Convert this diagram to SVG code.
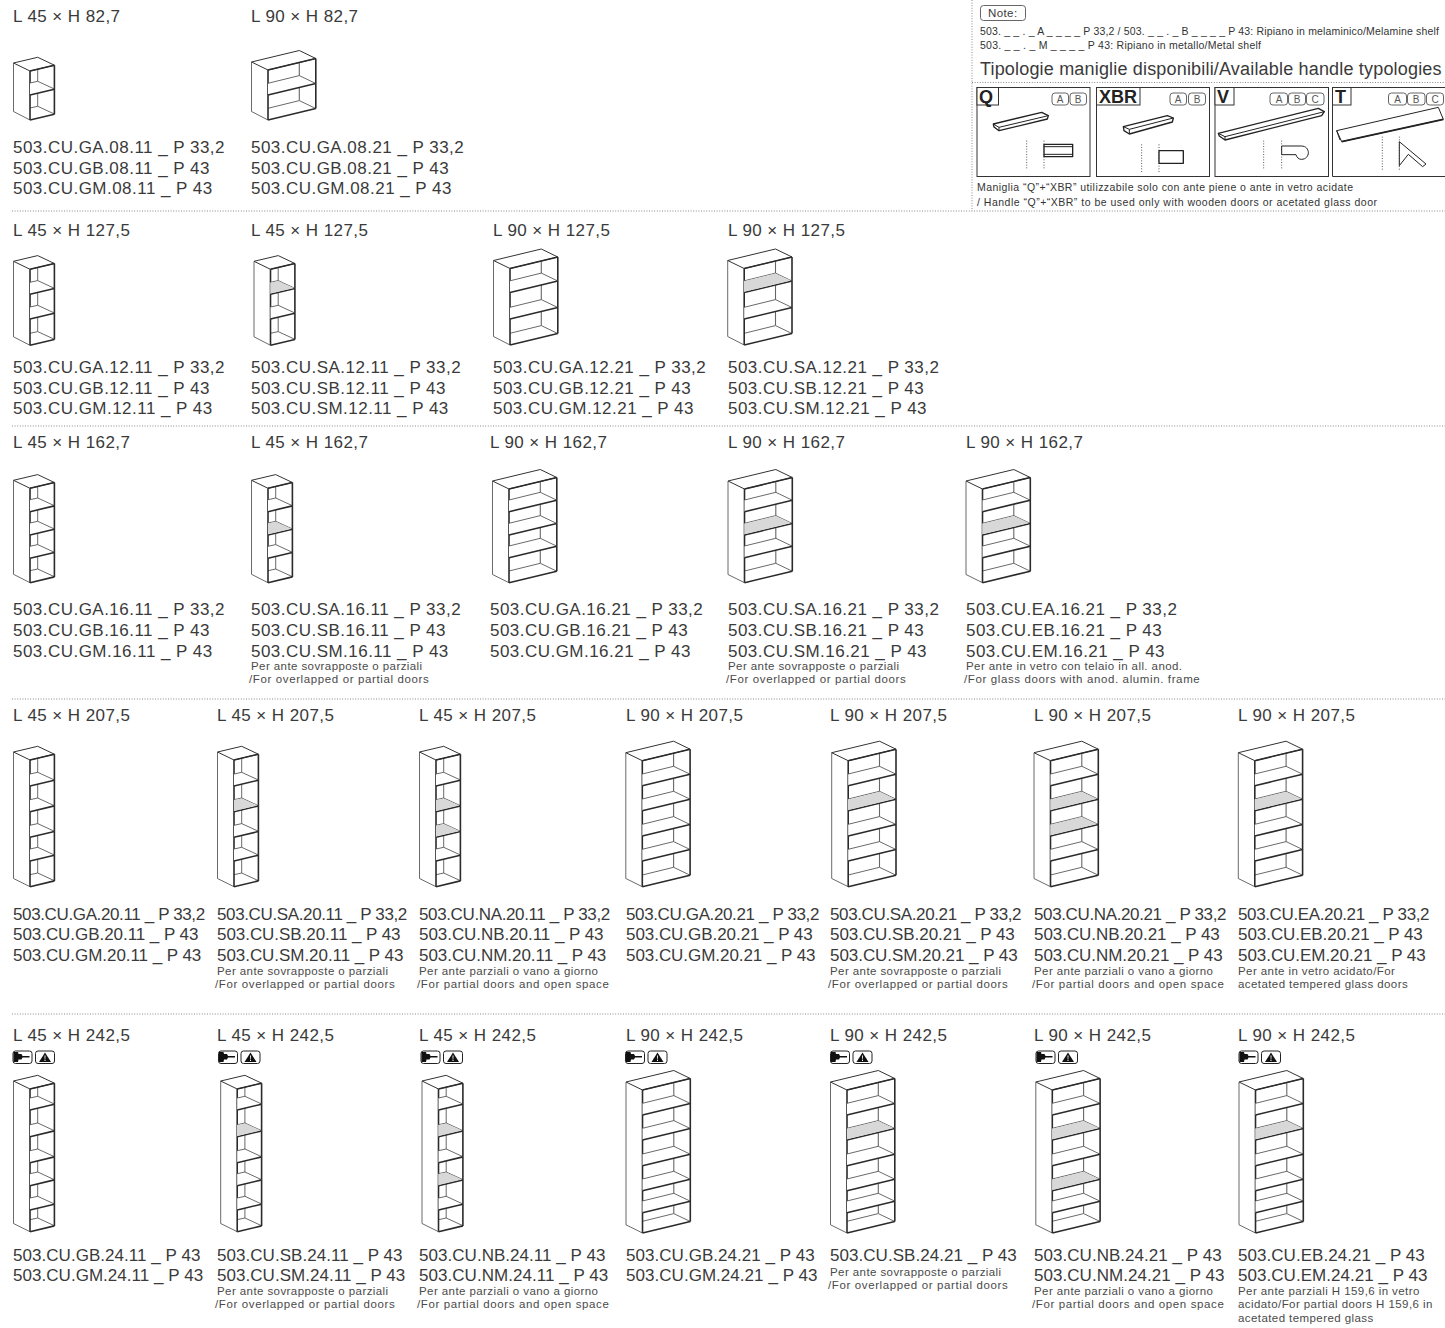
<svg xmlns="http://www.w3.org/2000/svg" width="1445" height="1328" viewBox="0 0 1445 1328">
<style>
text{font-family:"Liberation Sans",Arial,sans-serif;fill:#3a3a3a}
.l{font-size:17px;letter-spacing:.43px}
.c{font-size:17px;letter-spacing:.47px}
.d{font-size:17px;letter-spacing:-.37px}
.e{font-size:17px;letter-spacing:-.05px}
.f{font-size:17px;letter-spacing:.04px}
.s{font-size:11.5px;letter-spacing:.42px;fill:#4a4a4a}
.s2{font-size:11.5px;letter-spacing:.62px;fill:#4a4a4a}
.n{font-size:10.5px;fill:#333}
.t{font-size:18px;letter-spacing:.5px}
.tag{font-size:10px;fill:#555;text-anchor:middle}
.hl{font-size:18px;font-weight:bold;fill:#222}
.thin{fill:none;stroke:#444;stroke-width:.8}
.mid{fill:none;stroke:#666;stroke-width:1.1}
.side{fill:#fff;stroke:#333;stroke-width:1}
.thick{fill:none;stroke:#2b2b2b;stroke-width:1.6}
.gray{fill:#d8d8d8;stroke:none}
.wht{fill:#fff;stroke:none}
.sep{fill:none;stroke:#8a8a8a;stroke-width:1;stroke-dasharray:1 1.6}
.box{fill:#fff;stroke:#333;stroke-width:1}
.tagb{fill:#fff;stroke:#555;stroke-width:.9}
.icb{fill:#fff;stroke:#222;stroke-width:1}
.hk{fill:#fff;stroke:#222;stroke-width:4;stroke-linejoin:round}
.hk2{fill:none;stroke:#222;stroke-width:3}
.hdot{fill:none;stroke:#555;stroke-width:3;stroke-dasharray:3 5}
</style>
<defs>
<g id="ns"><path class="wht" d="M0,0L24.4,-5.8L7.7,-13.7L0,-12Z"/><path class="thin" d="M0,-12L7.7,-13.7L24.4,-6"/><path class="thick" d="M0,0L24.4,-5.8"/></g>
<g id="nsg"><use href="#ns"/><path class="gray" d="M0,-.8L23.5,-6.3L7.7,-13.3L0,-11.6Z"/></g>
<g id="ws"><path class="wht" d="M0,0L47.8,-11.5L31.3,-19.4L0,-11.7Z"/><path class="thin" d="M0,-11.7L31.3,-19.4L47.8,-11.5"/><path class="thick" d="M0,0L47.8,-11.5"/></g>
<g id="wsg"><use href="#ws"/><path class="gray" d="M0,-.8L46.5,-12L31.3,-19L0,-11.3Z"/></g>
<path id="nt" class="side" d="M-16.5,-8L7.7,-13.7L24.4,-5.8L0,0Z"/>
<path id="wt" class="side" d="M-16.5,-8L31.3,-19.5L47.8,-11.5L0,0Z"/>
<g id="n49"><use href="#nt"/><path class="thin" d="M-16.5,-8V40.5L0,49M7.7,-2V35.3"/><use href="#ns" y="49"/><path class="thick" d="M0,0V49M24.4,-5.8V43.2M0,0L24.4,-5.8"/></g>
<g id="n76"><use href="#nt"/><path class="thin" d="M-16.5,-8V67.5L0,76M7.7,-2V62.3"/><use href="#ns" y="76"/><path class="thick" d="M0,0V76M24.4,-5.8V70.2M0,0L24.4,-5.8"/></g>
<g id="n94"><use href="#nt"/><path class="thin" d="M-16.5,-8V86L0,94.4M7.7,-2V80.7"/><use href="#ns" y="94.4"/><path class="thick" d="M0,0V94.4M24.4,-5.8V88.6M0,0L24.4,-5.8"/></g>
<g id="n127"><use href="#nt"/><path class="thin" d="M-16.5,-8V118.5L0,126.7M7.7,-2V113"/><use href="#ns" y="126.7"/><path class="thick" d="M0,0V126.7M24.4,-5.8V120.9M0,0L24.4,-5.8"/></g>
<g id="n143"><use href="#nt"/><path class="thin" d="M-16.5,-8V134.5L0,142.7M7.7,-2V129"/><use href="#ns" y="142.7"/><path class="thick" d="M0,0V142.7M24.4,-5.8V136.9M0,0L24.4,-5.8"/></g>
<g id="w50"><use href="#wt"/><path class="thin" d="M-16.5,-8V41.5L0,50"/><path class="mid" d="M31.3,-7V30.5"/><use href="#ws" y="50"/><path class="thick" d="M0,0V50M47.8,-11.5V38.5M0,0L47.8,-11.5"/></g>
<g id="w76"><use href="#wt"/><path class="thin" d="M-16.5,-8V68L0,76.5"/><path class="mid" d="M31.3,-7V57"/><use href="#ws" y="76.5"/><path class="thick" d="M0,0V76.5M47.8,-11.5V65M0,0L47.8,-11.5"/></g>
<g id="w94"><use href="#wt"/><path class="thin" d="M-16.5,-8V85.5L0,93.7"/><path class="mid" d="M31.3,-7V74.3"/><use href="#ws" y="93.7"/><path class="thick" d="M0,0V93.7M47.8,-11.5V82.2M0,0L47.8,-11.5"/></g>
<g id="w126"><use href="#wt"/><path class="thin" d="M-16.5,-8V117.8L0,126"/><path class="mid" d="M31.3,-7V106.6"/><use href="#ws" y="126"/><path class="thick" d="M0,0V126M47.8,-11.5V114.5M0,0L47.8,-11.5"/></g>
<g id="w143"><use href="#wt"/><path class="thin" d="M-16.5,-8V134.8L0,143"/><path class="mid" d="M31.3,-7V123.6"/><use href="#ws" y="143"/><path class="thick" d="M0,0V143M47.8,-11.5V131.5M0,0L47.8,-11.5"/></g>
<g id="ic">
<rect class="icb" x=".5" y=".5" width="19" height="12.5" rx="2.5"/>
<path fill="#111" d="M1,1.5H5.5L6,3.5H9L10,5.5H17V7H10L9,9H6L5.5,11.5H1Z"/>
<rect class="icb" x="23" y=".5" width="19" height="12.5" rx="2.5"/>
<path fill="#111" d="M32.5,2L38.5,11.5H26.5Z"/>
<path fill="#fff" d="M32,5H33L32.8,8.7H32.2ZM32,9.3H33V10.4H32Z"/>
</g>
</defs>

<g id="separators">
<path class="sep" d="M972,0V211M972,82.5H1445M12,211H1445M12,426H1445M12,699H1445M12,1014H1445"/>
</g>

<g id="note">
<rect class="tagb" x="980.5" y="5.5" width="45" height="15" rx="3"/>
<text x="988" y="17" style="font-size:11.5px;letter-spacing:.4px">Note:</text>
<text class="n" x="980" y="35" textLength="459">503. _ _ . _ A _ _ _ _ P 33,2 / 503. _ _ . _ B _ _ _ _ P 43: Ripiano in melaminico/Melamine shelf</text>
<text class="n" x="980" y="49" textLength="281">503. _ _ . _ M _ _ _ _ P 43: Ripiano in metallo/Metal shelf</text>
<text class="t" x="980" y="75" textLength="462">Tipologie maniglie disponibili/Available handle typologies</text>
<text class="n" x="977" y="191" textLength="376">Maniglia “Q”+“XBR” utilizzabile solo con ante piene o ante in vetro acidate</text>
<text class="n" x="977" y="206" textLength="400">/ Handle “Q”+“XBR” to be used only with wooden doors or acetated glass door</text>
</g>

<g id="handle-Q">
<rect class="box" x="977" y="87.5" width="113" height="89"/>
<rect class="box" x="977" y="87.5" width="21.5" height="17.5"/>
<text class="hl" x="979" y="103">Q</text>
<rect class="tagb" x="1052" y="93" width="16.5" height="12" rx="3"/><text class="tag" x="1060" y="102.5">A</text>
<rect class="tagb" x="1070" y="93" width="16.5" height="12" rx="3"/><text class="tag" x="1078" y="102.5">B</text>
<g transform="translate(960,0) scale(.33333)">
<path class="hk" d="M100,372L245,337L265,347L262,357L117,392L102,381Z"/>
<path class="hk2" d="M100,372L117,382L265,347M117,382V392"/>
<path class="hdot" d="M200,422V508M252,422V508"/>
<path class="hk" d="M252,433H338V470H252Z"/>
<path class="hk2" d="M252,440H338M252,463H338"/>
</g>
</g>
<g id="handle-XBR">
<rect class="box" x="1096.500" y="87.5" width="113" height="89"/>
<rect class="box" x="1096.500" y="87.5" width="43.500" height="17.5"/>
<text class="hl" x="1099" y="103">XBR</text>
<rect class="tagb" x="1170" y="93" width="16.5" height="12" rx="3"/><text class="tag" x="1178" y="102.5">A</text>
<rect class="tagb" x="1188.500" y="93" width="17" height="12" rx="3"/><text class="tag" x="1197" y="102.5">B</text>
<g transform="translate(960,0) scale(.33333)">
<path class="hk" d="M490,380L622,347L640,354L637,366L508,402L492,392Z"/>
<path class="hk2" d="M490,380L508,388L640,354M508,388V402"/>
<path class="hdot" d="M545,433V518M597,433V518"/>
<path class="hk" d="M597,452H670V490H597Z"/>
</g>
</g>
<g id="handle-V">
<rect class="box" x="1215" y="87.5" width="113.500" height="89"/>
<rect class="box" x="1215" y="87.5" width="19" height="17.5"/>
<text class="hl" x="1217" y="103">V</text>
<rect class="tagb" x="1270" y="93" width="17.500" height="12" rx="3"/><text class="tag" x="1279" y="102.5">A</text>
<rect class="tagb" x="1288.500" y="93" width="17" height="12" rx="3"/><text class="tag" x="1297" y="102.5">B</text>
<rect class="tagb" x="1306.500" y="93" width="17.500" height="12" rx="3"/><text class="tag" x="1315" y="102.5">C</text>
<g transform="translate(960,0) scale(.33333)">
<path class="hk" d="M775,400L1075,325L1093,335L1085,347L795,420L778,408Z"/>
<path class="hk2" d="M775,400L795,410L1093,335M795,410V420"/>
<path class="hdot" d="M911,422V510M965,422V510"/>
<path class="hk" style="stroke-width:3" d="M965,438H1024C1052,438 1052,478 1024,478C1016,478 1010,472 1008,464H965Z"/>
</g>
</g>
<g id="handle-T">
<path class="box" d="M1445,87.500H1332.500V176.500H1445"/>
<rect class="box" x="1332.500" y="87.5" width="18.500" height="17.5"/>
<text class="hl" x="1335" y="103">T</text>
<rect class="tagb" x="1388.500" y="93" width="18" height="12" rx="3"/><text class="tag" x="1397.500" y="102.5">A</text>
<rect class="tagb" x="1407.500" y="93" width="17.500" height="12" rx="3"/><text class="tag" x="1416" y="102.5">B</text>
<rect class="tagb" x="1426.500" y="93" width="17" height="12" rx="3"/><text class="tag" x="1435" y="102.5">C</text>
<g transform="translate(960,0) scale(.33333)">
<path class="hk" style="stroke-width:3" d="M1130,392L1435,322L1450,358L1145,425Z"/>
<path class="hk2" style="stroke-width:5" d="M1145,425L1450,358"/>
<path class="hk2" d="M1130,392L1140,420"/>
<path class="hdot" d="M1267,410V510M1318,410V510"/>
<path class="hk" style="stroke-width:3" d="M1318,425L1398,492L1388,500L1345,463L1318,497Z"/>
</g>
</g>

<g id="row-1">
<g id="p-08-11"><text class="l" x="13" y="22">L 45 × H 82,7</text>
<g transform="translate(30,71)"><use href="#n49"/><use href="#ns" y="24"/></g>
<text class="c" x="13" y="153">503.CU.GA.08.11 _ P 33,2</text><text class="c" x="13" y="173.500">503.CU.GB.08.11 _ P 43</text><text class="c" x="13" y="194">503.CU.GM.08.11 _ P 43</text></g>
<g id="p-08-21"><text class="l" x="251" y="22">L 90 × H 82,7</text>
<g transform="translate(268,70)"><use href="#w50"/><use href="#ws" y="25"/></g>
<text class="c" x="251" y="153">503.CU.GA.08.21 _ P 33,2</text><text class="c" x="251" y="173.500">503.CU.GB.08.21 _ P 43</text><text class="c" x="251" y="194">503.CU.GM.08.21 _ P 43</text></g>
</g>

<g id="row-2">
<g id="p-G-12-11"><text class="l" x="13" y="236">L 45 × H 127,5</text>
<g transform="translate(30,269.300)"><use href="#n76"/><use href="#ns" y="25"/><use href="#ns" y="49.700"/></g>
<text class="c" x="13" y="373">503.CU.GA.12.11 _ P 33,2</text><text class="c" x="13" y="393.500">503.CU.GB.12.11 _ P 43</text><text class="c" x="13" y="414">503.CU.GM.12.11 _ P 43</text></g>
<g id="p-S-12-11"><text class="l" x="251" y="236">L 45 × H 127,5</text>
<g transform="translate(270.500,269.300)"><use href="#n76"/><use href="#nsg" y="25"/><use href="#ns" y="49.700"/></g>
<text class="c" x="251" y="373">503.CU.SA.12.11 _ P 33,2</text><text class="c" x="251" y="393.500">503.CU.SB.12.11 _ P 43</text><text class="c" x="251" y="414">503.CU.SM.12.11 _ P 43</text></g>
<g id="p-G-12-21"><text class="l" x="493" y="236">L 90 × H 127,5</text>
<g transform="translate(510,268.500)"><use href="#w76"/><use href="#ws" y="24"/><use href="#ws" y="50.500"/></g>
<text class="c" x="493" y="373">503.CU.GA.12.21 _ P 33,2</text><text class="c" x="493" y="393.500">503.CU.GB.12.21 _ P 43</text><text class="c" x="493" y="414">503.CU.GM.12.21 _ P 43</text></g>
<g id="p-S-12-21"><text class="l" x="728" y="236">L 90 × H 127,5</text>
<g transform="translate(744.200,268.500)"><use href="#w76"/><use href="#wsg" y="24"/><use href="#ws" y="50.500"/></g>
<text class="c" x="728" y="373">503.CU.SA.12.21 _ P 33,2</text><text class="c" x="728" y="393.500">503.CU.SB.12.21 _ P 43</text><text class="c" x="728" y="414">503.CU.SM.12.21 _ P 43</text></g>
</g>

<g id="row-3">
<g id="p-G-16-11"><text class="l" x="13" y="448">L 45 × H 162,7</text>
<g transform="translate(30,488.300)"><use href="#n94"/><use href="#ns" y="23.400"/><use href="#ns" y="46.700"/><use href="#ns" y="70"/></g>
<text class="c" x="13" y="615">503.CU.GA.16.11 _ P 33,2</text><text class="c" x="13" y="636">503.CU.GB.16.11 _ P 43</text><text class="c" x="13" y="657">503.CU.GM.16.11 _ P 43</text></g>
<g id="p-S-16-11"><text class="l" x="251" y="448">L 45 × H 162,7</text>
<g transform="translate(268,488.300)"><use href="#n94"/><use href="#ns" y="23.400"/><use href="#nsg" y="46.700"/><use href="#ns" y="70"/></g>
<text class="c" x="251" y="615">503.CU.SA.16.11 _ P 33,2</text><text class="c" x="251" y="636">503.CU.SB.16.11 _ P 43</text><text class="c" x="251" y="657">503.CU.SM.16.11 _ P 43</text>
<text class="s" x="251" y="670">Per ante sovrapposte o parziali</text><text class="s2" x="249" y="683">/For overlapped or partial doors</text></g>
<g id="p-G-16-21"><text class="l" x="490" y="448">L 90 × H 162,7</text>
<g transform="translate(509,489)"><use href="#w94"/><use href="#ws" y="22.700"/><use href="#ws" y="46"/><use href="#ws" y="68.700"/></g>
<text class="c" x="490" y="615">503.CU.GA.16.21 _ P 33,2</text><text class="c" x="490" y="636">503.CU.GB.16.21 _ P 43</text><text class="c" x="490" y="657">503.CU.GM.16.21 _ P 43</text></g>
<g id="p-S-16-21"><text class="l" x="728" y="448">L 90 × H 162,7</text>
<g transform="translate(744.500,489)"><use href="#w94"/><use href="#ws" y="22.700"/><use href="#wsg" y="46"/><use href="#ws" y="68.700"/></g>
<text class="c" x="728" y="615">503.CU.SA.16.21 _ P 33,2</text><text class="c" x="728" y="636">503.CU.SB.16.21 _ P 43</text><text class="c" x="728" y="657">503.CU.SM.16.21 _ P 43</text>
<text class="s" x="728" y="670">Per ante sovrapposte o parziali</text><text class="s2" x="726" y="683">/For overlapped or partial doors</text></g>
<g id="p-E-16-21"><text class="l" x="966" y="448">L 90 × H 162,7</text>
<g transform="translate(982.500,489)"><use href="#w94"/><use href="#ws" y="22.700"/><use href="#wsg" y="46"/><use href="#ws" y="68.700"/></g>
<text class="c" x="966" y="615">503.CU.EA.16.21 _ P 33,2</text><text class="c" x="966" y="636">503.CU.EB.16.21 _ P 43</text><text class="c" x="966" y="657">503.CU.EM.16.21 _ P 43</text>
<text class="s" x="966" y="670">Per ante in vetro con telaio in all. anod.</text><text class="s2" x="964" y="683">/For glass doors with anod. alumin. frame</text></g>
</g>

<g id="row-4">
<g id="p-G-20-11"><text class="l" x="13" y="721">L 45 × H 207,5</text>
<g transform="translate(30,760)"><use href="#n127"/><use href="#ns" y="26"/><use href="#ns" y="51.700"/><use href="#ns" y="77.300"/><use href="#ns" y="101"/></g>
<text class="d" x="13" y="919.500">503.CU.GA.20.11 _ P 33,2</text><text class="e" x="13" y="940">503.CU.GB.20.11 _ P 43</text><text class="e" x="13" y="961">503.CU.GM.20.11 _ P 43</text></g>
<g id="p-S-20-11"><text class="l" x="217" y="721">L 45 × H 207,5</text>
<g transform="translate(234,760)"><use href="#n127"/><use href="#ns" y="26"/><use href="#nsg" y="51.700"/><use href="#ns" y="77.300"/><use href="#ns" y="101"/></g>
<text class="d" x="217" y="919.500">503.CU.SA.20.11 _ P 33,2</text><text class="e" x="217" y="940">503.CU.SB.20.11 _ P 43</text><text class="e" x="217" y="961">503.CU.SM.20.11 _ P 43</text>
<text class="s" x="217" y="975">Per ante sovrapposte o parziali</text><text class="s2" x="215" y="988">/For overlapped or partial doors</text></g>
<g id="p-N-20-11"><text class="l" x="419" y="721">L 45 × H 207,5</text>
<g transform="translate(436,760)"><use href="#n127"/><use href="#ns" y="26"/><use href="#nsg" y="51.700"/><use href="#nsg" y="77.300"/><use href="#ns" y="101"/></g>
<text class="d" x="419" y="919.500">503.CU.NA.20.11 _ P 33,2</text><text class="e" x="419" y="940">503.CU.NB.20.11 _ P 43</text><text class="e" x="419" y="961">503.CU.NM.20.11 _ P 43</text>
<text class="s" x="419" y="975">Per ante parziali o vano a giorno</text><text class="s2" x="417" y="988">/For partial doors and open space</text></g>
<g id="p-G-20-21"><text class="l" x="626" y="721">L 90 × H 207,5</text>
<g transform="translate(642.300,760.700)"><use href="#w126"/><use href="#ws" y="25"/><use href="#ws" y="50"/><use href="#ws" y="75.300"/><use href="#ws" y="100.300"/></g>
<text class="d" x="626" y="919.500">503.CU.GA.20.21 _ P 33,2</text><text class="e" x="626" y="940">503.CU.GB.20.21 _ P 43</text><text class="e" x="626" y="961">503.CU.GM.20.21 _ P 43</text></g>
<g id="p-S-20-21"><text class="l" x="830" y="721">L 90 × H 207,5</text>
<g transform="translate(848.200,760.700)"><use href="#w126"/><use href="#ws" y="25"/><use href="#wsg" y="50"/><use href="#ws" y="75.300"/><use href="#ws" y="100.300"/></g>
<text class="d" x="830" y="919.500">503.CU.SA.20.21 _ P 33,2</text><text class="e" x="830" y="940">503.CU.SB.20.21 _ P 43</text><text class="e" x="830" y="961">503.CU.SM.20.21 _ P 43</text>
<text class="s" x="830" y="975">Per ante sovrapposte o parziali</text><text class="s2" x="828" y="988">/For overlapped or partial doors</text></g>
<g id="p-N-20-21"><text class="l" x="1034" y="721">L 90 × H 207,5</text>
<g transform="translate(1050.500,760.700)"><use href="#w126"/><use href="#ws" y="25"/><use href="#wsg" y="50"/><use href="#wsg" y="75.300"/><use href="#ws" y="100.300"/></g>
<text class="d" x="1034" y="919.500">503.CU.NA.20.21 _ P 33,2</text><text class="e" x="1034" y="940">503.CU.NB.20.21 _ P 43</text><text class="e" x="1034" y="961">503.CU.NM.20.21 _ P 43</text>
<text class="s" x="1034" y="975">Per ante parziali o vano a giorno</text><text class="s2" x="1032" y="988">/For partial doors and open space</text></g>
<g id="p-E-20-21"><text class="l" x="1238" y="721">L 90 × H 207,5</text>
<g transform="translate(1254.800,760.700)"><use href="#w126"/><use href="#ws" y="25"/><use href="#wsg" y="50"/><use href="#ws" y="75.300"/><use href="#ws" y="100.300"/></g>
<text class="d" x="1238" y="919.500">503.CU.EA.20.21 _ P 33,2</text><text class="e" x="1238" y="940">503.CU.EB.20.21 _ P 43</text><text class="e" x="1238" y="961">503.CU.EM.20.21 _ P 43</text>
<text class="s" x="1238" y="975">Per ante in vetro acidato/For</text><text class="s" x="1238" y="988">acetated tempered glass doors</text></g>
</g>

<g id="row-5">
<g id="p-G-24-11"><text class="l" x="13" y="1041">L 45 × H 242,5</text><use href="#ic" x="12.500" y="1050.500"/>
<g transform="translate(30,1089)"><use href="#n143"/><use href="#ns" y="21"/><use href="#ns" y="47.700"/><use href="#ns" y="73.700"/><use href="#ns" y="96.700"/><use href="#ns" y="121"/></g>
<text class="f" x="13" y="1261">503.CU.GB.24.11 _ P 43</text><text class="f" x="13" y="1281">503.CU.GM.24.11 _ P 43</text></g>
<g id="p-S-24-11"><text class="l" x="217" y="1041">L 45 × H 242,5</text><use href="#ic" x="218" y="1050.500"/>
<g transform="translate(237.200,1089)"><use href="#n143"/><use href="#ns" y="21"/><use href="#nsg" y="47.700"/><use href="#ns" y="73.700"/><use href="#ns" y="96.700"/><use href="#ns" y="121"/></g>
<text class="f" x="217" y="1261">503.CU.SB.24.11 _ P 43</text><text class="f" x="217" y="1281">503.CU.SM.24.11 _ P 43</text>
<text class="s" x="217" y="1295">Per ante sovrapposte o parziali</text><text class="s2" x="215" y="1308">/For overlapped or partial doors</text></g>
<g id="p-N-24-11"><text class="l" x="419" y="1041">L 45 × H 242,5</text><use href="#ic" x="420.500" y="1050.500"/>
<g transform="translate(438.500,1089)"><use href="#n143"/><use href="#ns" y="21"/><use href="#nsg" y="47.700"/><use href="#ns" y="73.700"/><use href="#nsg" y="96.700"/><use href="#ns" y="121"/></g>
<text class="f" x="419" y="1261">503.CU.NB.24.11 _ P 43</text><text class="f" x="419" y="1281">503.CU.NM.24.11 _ P 43</text>
<text class="s" x="419" y="1295">Per ante parziali o vano a giorno</text><text class="s2" x="417" y="1308">/For partial doors and open space</text></g>
<g id="p-G-24-21"><text class="l" x="626" y="1041">L 90 × H 242,5</text><use href="#ic" x="625" y="1050.500"/>
<g transform="translate(642.500,1090)"><use href="#w143"/><use href="#ws" y="25"/><use href="#ws" y="50"/><use href="#ws" y="75.700"/><use href="#ws" y="100.700"/><use href="#ws" y="122.700"/></g>
<text class="f" x="626" y="1261">503.CU.GB.24.21 _ P 43</text><text class="f" x="626" y="1281">503.CU.GM.24.21 _ P 43</text></g>
<g id="p-S-24-21"><text class="l" x="830" y="1041">L 90 × H 242,5</text><use href="#ic" x="830" y="1050.500"/>
<g transform="translate(847,1090)"><use href="#w143"/><use href="#ws" y="25"/><use href="#wsg" y="50"/><use href="#ws" y="75.700"/><use href="#ws" y="100.700"/><use href="#ws" y="122.700"/></g>
<text class="f" x="830" y="1261">503.CU.SB.24.21 _ P 43</text>
<text class="s" x="830" y="1276">Per ante sovrapposte o parziali</text><text class="s2" x="828" y="1289">/For overlapped or partial doors</text></g>
<g id="p-N-24-21"><text class="l" x="1034" y="1041">L 90 × H 242,5</text><use href="#ic" x="1035.500" y="1050.500"/>
<g transform="translate(1052.300,1090)"><use href="#w143"/><use href="#ws" y="25"/><use href="#wsg" y="50"/><use href="#ws" y="75.700"/><use href="#wsg" y="100.700"/><use href="#ws" y="122.700"/></g>
<text class="f" x="1034" y="1261">503.CU.NB.24.21 _ P 43</text><text class="f" x="1034" y="1281">503.CU.NM.24.21 _ P 43</text>
<text class="s" x="1034" y="1295">Per ante parziali o vano a giorno</text><text class="s2" x="1032" y="1308">/For partial doors and open space</text></g>
<g id="p-E-24-21"><text class="l" x="1238" y="1041">L 90 × H 242,5</text><use href="#ic" x="1238.500" y="1050.500"/>
<g transform="translate(1255.500,1090)"><use href="#w143"/><use href="#ws" y="25"/><use href="#wsg" y="50"/><use href="#ws" y="75.700"/><use href="#ws" y="100.700"/><use href="#ws" y="122.700"/></g>
<text class="f" x="1238" y="1261">503.CU.EB.24.21 _ P 43</text><text class="f" x="1238" y="1281">503.CU.EM.24.21 _ P 43</text>
<text class="s" x="1238" y="1295">Per ante parziali H 159,6 in vetro</text><text class="s" x="1238" y="1308">acidato/For partial doors H 159,6 in</text><text class="s" x="1238" y="1322">acetated tempered glass</text></g>
</g>
</svg>
